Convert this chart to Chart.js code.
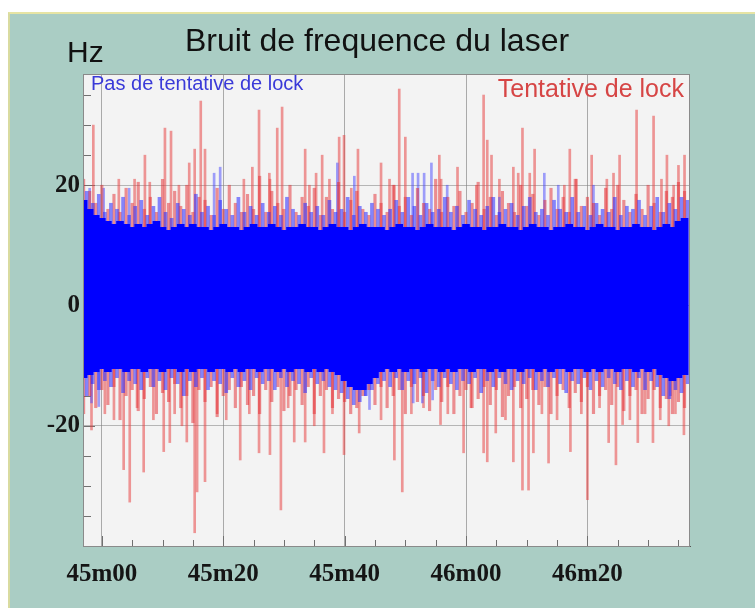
<!DOCTYPE html>
<html>
<head>
<meta charset="utf-8">
<script src="https://cdn.jsdelivr.net/npm/chart.js@4.4.1/dist/chart.umd.min.js"></script>
<style>
  html, body { margin: 0; padding: 0; background: #fff; }
  #frame {
    position: absolute; left: 8px; top: 12px; width: 745px; height: 594px;
    background: #aacdc4; border-top: 2px solid #e6e4a4; border-left: 2px solid #d9dba0;
  }
  #wrap { position: absolute; left: 0; top: 0; width: 755px; height: 608px; }
</style>
</head>
<body>
<div id="frame"></div>
<div id="wrap"><canvas id="myChart" width="755" height="608"></canvas></div>
<script>
// time in seconds after 45m00, one bin per second from -3 s to 96 s
const coreTop = [17.5,16,15,14.5,14,13.5,14,13.5,13,13.5,
  13,13.5,14,13,12.5,13,13.5,13,13.5,13,
  13,12.5,13,13.5,13,13,12.5,13,13.5,13,
  13,13.5,13,12.5,13,13,13.5,13,13,12.5,
  13,13.5,13,13,12.5,13,13.5,13,13,13,
  12.5,13,13.5,13,13,12.5,13,13.5,13,13,
  13,12.5,13,13.5,13,13,12.5,13,13,13.5,
  13,13,12.5,13,13.5,13,13,12.5,13,13,
  13.5,13,13,12.5,13,13.5,13,13,12.5,13,
  13,13.5,13,13,12.5,13,13.5,13,14,14.5];
const coreBot = [-12,-11.5,-11,-10.5,-11,-10.5,-10.5,-11,-10.5,-10.5,
  -11,-10.5,-10.5,-11,-10.5,-10.5,-11,-10.5,-11,-10.5,
  -10.5,-11,-10.5,-10.5,-11,-10.5,-11,-10.5,-10.5,-11,
  -10.5,-10.5,-11,-10.5,-11,-10.5,-10.5,-11,-10.5,-11,
  -10.5,-11,-11.5,-12.5,-13.5,-14,-14,-13,-12,-11,
  -10.5,-11,-10.5,-11,-10.5,-10.5,-11,-10.5,-10.5,-11,
  -10.5,-11,-10.5,-10.5,-11,-10.5,-10.5,-11,-10.5,-11,
  -10.5,-10.5,-11,-10.5,-10.5,-11,-10.5,-11,-10.5,-10.5,
  -11,-10.5,-10.5,-11,-10.5,-11,-10.5,-10.5,-11,-10.5,
  -10.5,-11,-10.5,-11,-10.5,-11.5,-12,-12.5,-12,-11.5];
const blueTop = [19,17,18.5,15.5,17,16,18,15,16.5,17.5,
  15,16.5,18,15.5,14.5,17,16,15,18.5,15.5,
  16.5,15,17.5,16,15,18,15.5,16.5,15,17,
  15.5,16.5,15,18,16,15,17,15.5,16.5,15,
  17.5,15.5,16,18,15,16.5,15.5,17,16,15,
  16,17.5,15.5,18,16.5,15,17,15.5,16,18,
  15.5,16.5,15,17.5,16,15,16.5,18,15.5,16,
  17,15,16.5,18,15.5,16,15,17.5,16,15.5,
  18,15.5,16.5,15,17,16,15.5,18,15,16.5,
  16,17.5,15,16.5,18,15.5,17,16,18,17.5];
const blueBot = [-15,-13,-14,-12.5,-13.5,-12,-14.5,-12.5,-13,-14,
  -12,-13.5,-12.5,-14,-12,-13,-15,-12.5,-13.5,-12,
  -14,-12.5,-13,-14.5,-12,-13.5,-12.5,-14,-12,-13,
  -12.5,-14,-12,-13.5,-12.5,-13,-14.5,-12,-13,-12.5,
  -13.5,-14,-14.5,-15.5,-16.5,-16,-15,-14,-13,-12.5,
  -13.5,-12,-14,-12.5,-13,-12,-14.5,-12.5,-13.5,-12,
  -13,-14,-12.5,-13,-12,-14.5,-12.5,-13.5,-12,-13,
  -14,-12.5,-13,-12,-14,-12.5,-13.5,-12,-13,-14.5,
  -12.5,-13,-12,-14,-12.5,-13.5,-12,-13,-14,-12.5,
  -13.5,-12,-14,-12.5,-13.5,-15,-15.5,-14,-14.5,-13];
const redTop = [21,19,17,20,16,18.5,15.5,19.5,17,20.5,
  16,18,15.5,21,17,19,16.5,20,15.5,18,
  17.5,15,19.5,16,20,17,15.5,18.5,16,21.5,
  15.5,19,17,16,20,15.5,18,16.5,19.5,15,
  18,16,20.5,15.5,17.5,19,16,15,18.5,17,
  15.5,20,16.5,18,15,19.5,17,16,21,15.5,
  18,16.5,19,15.5,17,20.5,16,18,15,19,
  17,15.5,20,16.5,18.5,15,17.5,19.5,16,18,
  15.5,21,16.5,18,17,15,19.5,16,20,17.5,
  15.5,18.5,16,20,17,15.5,19,18,20.5,19];
const redBot = [-18,-15,-17,-14,-16.5,-13.5,-19,-15,-14,-17.5,
  -15.5,-13.5,-18,-14.5,-16,-13,-17,-15,-19.5,-14,
  -16,-13.5,-18.5,-15,-14,-17,-13.5,-16.5,-15,-18,
  -14,-16,-13.5,-17.5,-15,-14,-16.5,-13.5,-18,-15,
  -14,-17,-15.5,-16,-18,-17,-15,-14,-16.5,-13.5,
  -17,-15,-14,-18,-13.5,-16,-15,-17.5,-14,-16,
  -13.5,-18,-15,-14,-17,-15.5,-13.5,-16.5,-14,-18.5,
  -15,-13.5,-17,-15.5,-14,-16.5,-13.5,-18,-15,-14,
  -17,-14.5,-16,-13.5,-18,-15,-14,-16.5,-13.5,-17.5,
  -15,-14,-18,-15.5,-14,-17,-15.5,-18,-16,-17];

// isolated spikes (time s, value Hz)
const redUpT = [-1.4,2.8,5.4,7.1,7.9,10.4,11.4,12.7,14.4,15.3,16.3,17.0,23.4,24.8,25.9,27.6,27.7,28.9,29.7,
  33.5,34.2,35.3,36.3,37.5,39.1,39.9,41.1,42.2,46.0,47.4,48.2,49.0,50.0,55.6,55.9,58.6,61.7,62.9,63.5,
  64.2,65.5,67.8,68.6,69.3,70.5,71.3,76.2,77.1,78.2,80.7,83.2,84.3,85.3,88.1,90.9,92.2,93.1,94.2,95.0,96.0];
const redUpV = [30,21,21,25,20.5,29.5,29,20,23.7,26,34,26,21,23,32.5,22,21,29.5,33,
  26,20,22,25,21,28,28.3,19.5,26,23.7,21,20,36,28,25,21,23,20,35,27.5,
  25,21,23,22,29.5,22,26,20,26,21,25,21,22,25,32.5,31.5,21,25,20,23.3,25];
const redDownT = [-1.7,0.5,2.0,3.6,4.6,5.8,6.9,8.5,10.2,11.2,12.0,13.2,14.0,15.3,15.7,17.0,19.0,20.5,22.8,24.3,
  25.9,27.7,29.5,30.7,31.7,33.5,35.0,36.6,38.0,39.9,42.4,46.0,48.2,49.5,51.0,53.0,55.8,57.0,59.6,60.8,
  62.9,63.5,64.9,66.5,67.8,69.3,70.3,71.1,72.5,73.6,75.0,77.2,79.0,80.0,82.0,83.5,84.7,85.8,87.0,88.3,
  89.5,90.8,92.0,93.4,94.5,95.9];
const redDownV = [-20.7,-18,-19,-27.3,-32.7,-17,-27.7,-19,-24.3,-22.8,-18,-20,-22.7,-37.8,-31,-29.3,-18,-19,-25.7,-18,
  -24.5,-24.8,-34,-17,-22.7,-22.7,-20,-24.5,-18,-24.8,-21.2,-19,-25.7,-31,-18,-17,-19.8,-18,-24.5,-17,
  -24.5,-26,-21.2,-19,-26,-30.7,-30.7,-24.5,-18,-26.2,-19,-24.3,-18,-32.3,-17,-22.8,-26.5,-19.8,-19,-22.8,
  -18,-22.8,-19,-20,-18,-21.5];
const blueUpT = [-2.0,0.3,4.5,18.5,19.5,38.8,41.6,51.2,52.1,53.1,54.3,56.9,65.5,72.9,75.2,81.0];
const blueUpV = [19.5,19.5,19.5,22,23,23.7,21.5,22,22,22,23.7,20,18,22,20,20];
const blueDownT = [-1.7,-0.5,43.4,44.1,51.3,52.8,54.5,93.7];
const blueDownV = [-16.2,-16.8,-15,-17.3,-16.2,-16.2,-15.7,-15];

const xTicks = [];
for (let s = 0; s <= 95; s += 5) xTicks.push(s);
const yTicks = [];
for (let v = -40; v <= 35; v += 5) yTicks.push(v);

function timeLabel(s) {
  const m = 45 + Math.floor(s / 60);
  const sec = s % 60;
  return m + 'm' + (sec < 10 ? '0' : '') + sec;
}

const secs = coreTop.map((_, i) => i - 3);

function bars(label, points, thick, color) {
  return { label: label, data: points, barThickness: thick, backgroundColor: color,
    borderWidth: 0, grouped: false };
}

const datasets = [
  bars('core', secs.map((t, i) => ({x: t, y: [coreBot[i], coreTop[i]]})), 7, '#0000ff'),
  bars('blueFringe', secs.map((t, i) => ({x: t + 0.5, y: [blueBot[i], blueTop[i]]})), 3, 'rgba(40,40,255,0.55)'),
  bars('redFringe', secs.map((t, i) => ({x: t, y: [redBot[i], redTop[i]]})), 2.5, 'rgba(228,40,45,0.5)'),
  bars('blueSpikes', blueUpT.map((t, i) => ({x: t, y: [8, blueUpV[i]]}))
    .concat(blueDownT.map((t, i) => ({x: t, y: [blueDownV[i], -8]}))), 2, 'rgba(70,70,255,0.5)'),
  bars('redSpikes', redUpT.map((t, i) => ({x: t, y: [8, redUpV[i]]}))
    .concat(redDownT.map((t, i) => ({x: t, y: [redDownV[i], -8]}))), 2, 'rgba(232,70,70,0.55)')
];

const decor = {
  id: 'decor',
  beforeDraw(chart) {
    const {ctx, chartArea: a} = chart;
    ctx.save();
    ctx.fillStyle = '#f3f3f3';
    ctx.fillRect(a.left, a.top, a.right - a.left, a.bottom - a.top);
    ctx.restore();
  },
  beforeDatasetsDraw(chart) {
    const {ctx, chartArea: a, scales: {x, y}} = chart;
    ctx.save();
    ctx.strokeStyle = '#707070';
    ctx.lineWidth = 1;
    ctx.beginPath();
    x.ticks.forEach(t => {
      const px = Math.round(x.getPixelForValue(t.value)) + 0.5;
      const len = t.value % 20 === 0 ? 10 : 6;
      ctx.moveTo(px, a.bottom); ctx.lineTo(px, a.bottom - len);
    });
    y.ticks.forEach(t => {
      const py = Math.round(y.getPixelForValue(t.value)) + 0.5;
      const len = t.value % 20 === 0 ? 12 : 8;
      ctx.moveTo(a.left, py); ctx.lineTo(a.left + len, py);
    });
    ctx.stroke();
    ctx.restore();
  },
  afterDraw(chart) {
    const {ctx, chartArea: a} = chart;
    ctx.save();
    ctx.strokeStyle = '#8a8a8a';
    ctx.lineWidth = 1;
    ctx.strokeRect(a.left + 0.5, a.top + 0.5, a.right - a.left - 1, a.bottom - a.top);
    ctx.textBaseline = 'alphabetic';
    ctx.fillStyle = '#111';
    ctx.font = '32px "Liberation Sans", Arial, sans-serif';
    ctx.textAlign = 'center';
    ctx.fillText('Bruit de frequence du laser', 377, 51);
    ctx.font = '30px "Liberation Sans", Arial, sans-serif';
    ctx.textAlign = 'left';
    ctx.fillText('Hz', 67, 62);
    ctx.fillStyle = '#3a3ad8';
    ctx.font = '20px "Liberation Sans", Arial, sans-serif';
    ctx.fillText('Pas de tentative de lock', 91, 90);
    ctx.fillStyle = '#d64545';
    ctx.font = '25px "Liberation Sans", Arial, sans-serif';
    ctx.textAlign = 'right';
    ctx.fillText('Tentative de lock', 684, 97);
    ctx.restore();
  }
};

new Chart('myChart', {
  type: 'bar',
  data: { datasets: datasets },
  options: {
    responsive: false,
    animation: false,
    events: [],
    layout: { padding: { top: 74, right: 65, left: 0, bottom: 0 } },
    plugins: { legend: { display: false }, tooltip: { enabled: false }, title: { display: false } },
    scales: {
      x: {
        type: 'linear', min: -3.1, max: 96.9, offset: false,
        afterBuildTicks: s => { s.ticks = xTicks.map(v => ({value: v})); },
        afterFit: s => { s.height = 62; },
        grid: { offset: false, drawTicks: false,
          color: c => (c.tick && c.tick.value % 20 === 0) ? 'rgba(120,120,120,0.6)' : 'rgba(0,0,0,0)' },
        border: { color: '#555', width: 1 },
        ticks: { autoSkip: false, maxRotation: 0, padding: 14, color: '#151515',
          font: { family: '"Liberation Serif", "Times New Roman", serif', size: 25, weight: 'bold' },
          callback: v => v % 20 === 0 ? timeLabel(v) : '' }
      },
      y: {
        min: -40, max: 38.5,
        afterBuildTicks: s => { s.ticks = yTicks.map(v => ({value: v})); },
        afterFit: s => { s.width = 83; },
        grid: { drawTicks: false,
          color: c => (c.tick && c.tick.value % 20 === 0) ? 'rgba(130,130,130,0.55)' : 'rgba(0,0,0,0)' },
        border: { color: '#777', width: 1 },
        ticks: { autoSkip: false, padding: 3, color: '#151515',
          font: { family: '"Liberation Serif", "Times New Roman", serif', size: 25, weight: 'bold' },
          callback: v => (v === 20 || v === 0 || v === -20) ? String(v) : '' }
      }
    }
  },
  plugins: [decor]
});
</script>
</body>
</html>
